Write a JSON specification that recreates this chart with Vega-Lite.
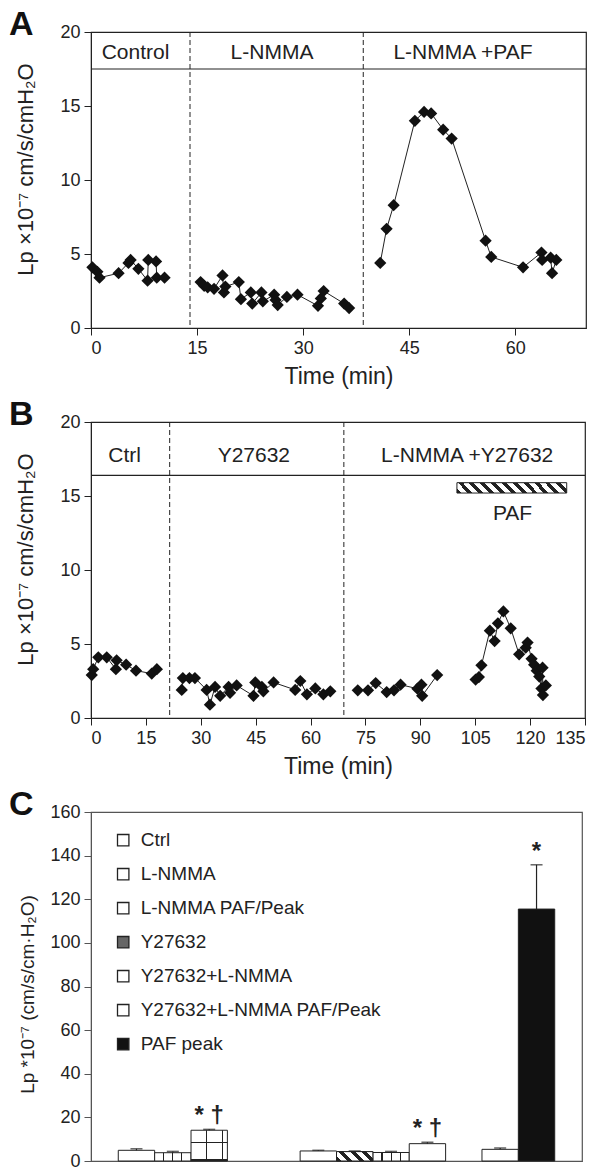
{
  "$schema": "https://vega.github.io/schema/vega-lite/v6.json",
  "background": "white",
  "padding": {"left": 8, "top": 7, "right": 5, "bottom": 5},
  "spacing": 94,
  "bounds": "flush",
  "config": {
    "font": "Liberation Sans",
    "view": {"stroke": "#222", "strokeWidth": 1.2},
    "axis": {"grid": false, "labelFont": "Liberation Sans", "labelFontSize": 18, "labelColor": "#222", "tickColor": "#222", "domainColor": "#222", "tickSize": 7, "labelPadding": 4, "titleFont": "Liberation Sans", "titleFontSize": 21, "titleFontWeight": "normal", "titleColor": "#222"},
    "title": {"font": "Liberation Sans", "fontSize": 34, "fontWeight": "bold", "anchor": "start", "frame": "group", "color": "#111"},
    "text": {"font": "Liberation Sans", "color": "#222"}
  },
  "datasets": {
    "lpA": [
      {"s": 1, "t": 0.2, "v": 4.1}, {"s": 1, "t": 0.9, "v": 3.8}, {"s": 1, "t": 1.2, "v": 3.4}, {"s": 1, "t": 3.9, "v": 3.7}, {"s": 1, "t": 5.3, "v": 4.4}, {"s": 1, "t": 5.6, "v": 4.6}, {"s": 1, "t": 6.7, "v": 4.0}, {"s": 1, "t": 8.0, "v": 3.2}, {"s": 1, "t": 8.1, "v": 4.6}, {"s": 1, "t": 9.2, "v": 4.5}, {"s": 1, "t": 9.3, "v": 3.4}, {"s": 1, "t": 10.4, "v": 3.4},
      {"s": 2, "t": 15.5, "v": 3.1}, {"s": 2, "t": 16.0, "v": 2.85}, {"s": 2, "t": 16.5, "v": 2.75}, {"s": 2, "t": 17.4, "v": 2.65}, {"s": 2, "t": 18.6, "v": 3.55}, {"s": 2, "t": 18.8, "v": 2.4}, {"s": 2, "t": 19.0, "v": 2.8}, {"s": 2, "t": 20.9, "v": 3.1}, {"s": 2, "t": 21.2, "v": 1.95}, {"s": 2, "t": 22.6, "v": 2.4}, {"s": 2, "t": 22.8, "v": 1.65}, {"s": 2, "t": 24.1, "v": 2.4}, {"s": 2, "t": 24.3, "v": 1.8}, {"s": 2, "t": 25.9, "v": 2.25}, {"s": 2, "t": 26.1, "v": 1.9}, {"s": 2, "t": 26.4, "v": 1.55}, {"s": 2, "t": 27.7, "v": 2.1}, {"s": 2, "t": 29.2, "v": 2.25}, {"s": 2, "t": 32.1, "v": 1.5}, {"s": 2, "t": 32.5, "v": 2.0}, {"s": 2, "t": 32.9, "v": 2.5}, {"s": 2, "t": 35.8, "v": 1.65}, {"s": 2, "t": 36.5, "v": 1.35},
      {"s": 3, "t": 40.9, "v": 4.4}, {"s": 3, "t": 41.8, "v": 6.7}, {"s": 3, "t": 42.8, "v": 8.3}, {"s": 3, "t": 45.8, "v": 14.0}, {"s": 3, "t": 47.1, "v": 14.6}, {"s": 3, "t": 48.1, "v": 14.5}, {"s": 3, "t": 49.8, "v": 13.4}, {"s": 3, "t": 51.0, "v": 12.8}, {"s": 3, "t": 55.8, "v": 5.9}, {"s": 3, "t": 56.6, "v": 4.8}, {"s": 3, "t": 61.1, "v": 4.1}, {"s": 3, "t": 63.7, "v": 5.1}, {"s": 3, "t": 63.8, "v": 4.6}, {"s": 3, "t": 65.0, "v": 4.75}, {"s": 3, "t": 65.2, "v": 3.7}, {"s": 3, "t": 65.8, "v": 4.6}
    ],
    "lpB": [
      {"s": 1, "t": 0.2, "v": 2.9}, {"s": 1, "t": 0.6, "v": 3.3}, {"s": 1, "t": 2.0, "v": 4.1}, {"s": 1, "t": 4.3, "v": 4.1}, {"s": 1, "t": 6.8, "v": 3.3}, {"s": 1, "t": 7.0, "v": 3.9}, {"s": 1, "t": 9.6, "v": 3.6}, {"s": 1, "t": 12.3, "v": 3.2}, {"s": 1, "t": 16.6, "v": 3.0}, {"s": 1, "t": 18.0, "v": 3.3},
      {"s": 2, "t": 24.8, "v": 1.9}, {"s": 2, "t": 25.1, "v": 2.7}, {"s": 2, "t": 26.9, "v": 2.7}, {"s": 2, "t": 28.4, "v": 2.7}, {"s": 2, "t": 31.6, "v": 1.9}, {"s": 2, "t": 32.5, "v": 0.9}, {"s": 2, "t": 33.9, "v": 2.1}, {"s": 2, "t": 35.3, "v": 1.5}, {"s": 2, "t": 37.6, "v": 2.1}, {"s": 2, "t": 38.0, "v": 1.7}, {"s": 2, "t": 39.8, "v": 2.2}, {"s": 2, "t": 44.4, "v": 1.5}, {"s": 2, "t": 44.9, "v": 2.4}, {"s": 2, "t": 46.7, "v": 2.1}, {"s": 2, "t": 47.1, "v": 1.8}, {"s": 2, "t": 49.9, "v": 2.4}, {"s": 2, "t": 55.8, "v": 1.9}, {"s": 2, "t": 57.2, "v": 2.5}, {"s": 2, "t": 59.0, "v": 1.6}, {"s": 2, "t": 61.3, "v": 2.0}, {"s": 2, "t": 63.5, "v": 1.6}, {"s": 2, "t": 65.4, "v": 1.8},
      {"s": 3, "t": 72.9, "v": 1.87}, {"s": 3, "t": 75.7, "v": 1.87}, {"s": 3, "t": 77.8, "v": 2.36}, {"s": 3, "t": 80.8, "v": 1.75}, {"s": 3, "t": 82.8, "v": 1.87}, {"s": 3, "t": 84.6, "v": 2.25}, {"s": 3, "t": 89.2, "v": 1.98}, {"s": 3, "t": 90.3, "v": 2.25}, {"s": 3, "t": 90.5, "v": 1.5}, {"s": 3, "t": 94.6, "v": 2.9},
      {"s": 4, "t": 105.1, "v": 2.6}, {"s": 4, "t": 106.0, "v": 2.77}, {"s": 4, "t": 106.7, "v": 3.56}, {"s": 4, "t": 109.0, "v": 5.9}, {"s": 4, "t": 110.3, "v": 5.2}, {"s": 4, "t": 111.2, "v": 6.4}, {"s": 4, "t": 112.7, "v": 7.2}, {"s": 4, "t": 114.7, "v": 6.06}, {"s": 4, "t": 117.0, "v": 4.3}, {"s": 4, "t": 118.8, "v": 4.75}, {"s": 4, "t": 119.3, "v": 5.1}, {"s": 4, "t": 120.4, "v": 4.0}, {"s": 4, "t": 121.1, "v": 3.6}, {"s": 4, "t": 121.8, "v": 3.2}, {"s": 4, "t": 122.5, "v": 2.8}, {"s": 4, "t": 123.1, "v": 1.99}, {"s": 4, "t": 123.4, "v": 3.4}, {"s": 4, "t": 123.5, "v": 1.55}, {"s": 4, "t": 124.3, "v": 2.2}
    ],
    "hdrA": [
      {"label": "Control", "t": 6.3, "v": 18.15},
      {"label": "L-NMMA", "t": 25.6, "v": 18.15},
      {"label": "L-NMMA +PAF", "t": 52.6, "v": 18.15}
    ],
    "hdrB": [
      {"label": "Ctrl", "t": 9.2, "v": 17.3},
      {"label": "Y27632", "t": 44.5, "v": 17.3},
      {"label": "L-NMMA +Y27632", "t": 102.8, "v": 17.3},
      {"label": "PAF", "t": 115.2, "v": 13.36}
    ],
    "bndA": [{"t": 14.0}, {"t": 38.5}],
    "bndB": [{"t": 21.5}, {"t": 69.1}],
    "pafB": [{"t": 100, "t2": 130, "v": 15.2, "v2": 15.9}],
    "bars": [
      {"slot": "Ctrl_1", "cond": "Ctrl", "v": 4.9, "err": 5.6},
      {"slot": "L-NMMA", "cond": "L-NMMA", "v": 3.8, "err": 4.4},
      {"slot": "L-NMMA PAF/Peak", "cond": "L-NMMA PAF/Peak", "v": 14.1, "err": 14.5, "sig": "* †"},
      {"slot": "Ctrl_2", "cond": "Ctrl", "v": 4.6, "err": 4.9},
      {"slot": "Y27632", "cond": "Y27632", "v": 4.3, "err": 4.6},
      {"slot": "Y27632+L-NMMA", "cond": "Y27632+L-NMMA", "v": 3.9, "err": 4.4},
      {"slot": "Y27632+L-NMMA PAF/Peak", "cond": "Y27632+L-NMMA PAF/Peak", "v": 7.95, "err": 8.6, "sig": "* †"},
      {"slot": "Ctrl_3", "cond": "Ctrl", "v": 5.35, "err": 5.96},
      {"slot": "PAF peak", "cond": "PAF peak", "v": 115.5, "err": 135.8, "sig": "*"}
    ]
  },
  "vconcat": [
    {
      "width": 495,
      "height": 296,
      "title": {"text": "A", "dx": -82, "dy": 19, "offset": 0},
      "layer": [
        {
          "data": {"name": "lpA"},
          "mark": {"type": "line", "color": "#222", "strokeWidth": 1},
          "encoding": {
            "x": {"field": "t", "type": "quantitative", "scale": {"domain": [0, 70], "nice": false}, "axis": {"values": [0, 15, 30, 45, 60], "title": "Time (min)", "titlePadding": 8, "titleFontSize": 23}},
            "y": {"field": "v", "type": "quantitative", "scale": {"domain": [0, 20], "nice": false}, "axis": {"values": [0, 5, 10, 15, 20], "title": "Lp ×10⁻⁷ cm/s/cmH₂O", "titleX": -54, "titleY": 137, "titleFontSize": 22}},
            "detail": {"field": "s"}
          }
        },
        {
          "data": {"name": "lpA"},
          "mark": {"type": "point", "shape": "diamond", "filled": true, "color": "#111", "size": 150, "opacity": 1},
          "encoding": {
            "x": {"field": "t", "type": "quantitative"},
            "y": {"field": "v", "type": "quantitative"}
          }
        },
        {
          "data": {"name": "bndA"},
          "mark": {"type": "rule", "color": "#222", "strokeDash": [5, 3], "strokeWidth": 1},
          "encoding": {"x": {"field": "t", "type": "quantitative"}}
        },
        {
          "data": {"values": [{"v": 17.5}]},
          "mark": {"type": "rule", "color": "#222", "strokeWidth": 1.2},
          "encoding": {"y": {"field": "v", "type": "quantitative"}}
        },
        {
          "data": {"name": "hdrA"},
          "mark": {"type": "text", "fontSize": 21, "align": "center", "baseline": "alphabetic"},
          "encoding": {
            "x": {"field": "t", "type": "quantitative"},
            "y": {"field": "v", "type": "quantitative"},
            "text": {"field": "label"}
          }
        }
      ]
    },
    {
      "width": 494,
      "height": 296,
      "title": {"text": "B", "dx": -82, "dy": 19, "offset": 0},
      "layer": [
        {
          "data": {"name": "lpB"},
          "mark": {"type": "line", "color": "#222", "strokeWidth": 1},
          "encoding": {
            "x": {"field": "t", "type": "quantitative", "scale": {"domain": [0, 135], "nice": false}, "axis": {"values": [0, 15, 30, 45, 60, 75, 90, 105, 120, 135], "title": "Time (min)", "titlePadding": 8, "titleFontSize": 23}},
            "y": {"field": "v", "type": "quantitative", "scale": {"domain": [0, 20], "nice": false}, "axis": {"values": [0, 5, 10, 15, 20], "title": "Lp ×10⁻⁷ cm/s/cmH₂O", "titleX": -54, "titleY": 137, "titleFontSize": 22}},
            "detail": {"field": "s"}
          }
        },
        {
          "data": {"name": "lpB"},
          "mark": {"type": "point", "shape": "diamond", "filled": true, "color": "#111", "size": 150, "opacity": 1},
          "encoding": {
            "x": {"field": "t", "type": "quantitative"},
            "y": {"field": "v", "type": "quantitative"}
          }
        },
        {
          "data": {"name": "bndB"},
          "mark": {"type": "rule", "color": "#222", "strokeDash": [5, 3], "strokeWidth": 1},
          "encoding": {"x": {"field": "t", "type": "quantitative"}}
        },
        {
          "data": {"values": [{"v": 16.4}]},
          "mark": {"type": "rule", "color": "#222", "strokeWidth": 1.2},
          "encoding": {"y": {"field": "v", "type": "quantitative"}}
        },
        {
          "data": {"name": "pafB"},
          "mark": {"type": "rect", "stroke": "#222", "strokeWidth": 1, "fill": {"gradient": "linear", "x1": 0, "y1": 1, "x2": 1.08, "y2": 0.902, "stops": [
            {"offset": 0, "color": "#222"}, {"offset": 0.041, "color": "#222"}, {"offset": 0.041, "color": "#fff"}, {"offset": 0.0909, "color": "#fff"},
            {"offset": 0.0909, "color": "#222"}, {"offset": 0.1319, "color": "#222"}, {"offset": 0.1319, "color": "#fff"}, {"offset": 0.1818, "color": "#fff"},
            {"offset": 0.1818, "color": "#222"}, {"offset": 0.2228, "color": "#222"}, {"offset": 0.2228, "color": "#fff"}, {"offset": 0.2727, "color": "#fff"},
            {"offset": 0.2727, "color": "#222"}, {"offset": 0.3137, "color": "#222"}, {"offset": 0.3137, "color": "#fff"}, {"offset": 0.3636, "color": "#fff"},
            {"offset": 0.3636, "color": "#222"}, {"offset": 0.4046, "color": "#222"}, {"offset": 0.4046, "color": "#fff"}, {"offset": 0.4545, "color": "#fff"},
            {"offset": 0.4545, "color": "#222"}, {"offset": 0.4955, "color": "#222"}, {"offset": 0.4955, "color": "#fff"}, {"offset": 0.5455, "color": "#fff"},
            {"offset": 0.5455, "color": "#222"}, {"offset": 0.5865, "color": "#222"}, {"offset": 0.5865, "color": "#fff"}, {"offset": 0.6364, "color": "#fff"},
            {"offset": 0.6364, "color": "#222"}, {"offset": 0.6774, "color": "#222"}, {"offset": 0.6774, "color": "#fff"}, {"offset": 0.7273, "color": "#fff"},
            {"offset": 0.7273, "color": "#222"}, {"offset": 0.7683, "color": "#222"}, {"offset": 0.7683, "color": "#fff"}, {"offset": 0.8182, "color": "#fff"},
            {"offset": 0.8182, "color": "#222"}, {"offset": 0.8592, "color": "#222"}, {"offset": 0.8592, "color": "#fff"}, {"offset": 0.9091, "color": "#fff"},
            {"offset": 0.9091, "color": "#222"}, {"offset": 0.9501, "color": "#222"}, {"offset": 0.9501, "color": "#fff"}, {"offset": 1, "color": "#fff"}
          ]}},
          "encoding": {
            "x": {"field": "t", "type": "quantitative"},
            "x2": {"field": "t2"},
            "y": {"field": "v", "type": "quantitative"},
            "y2": {"field": "v2"}
          }
        },
        {
          "data": {"name": "hdrB"},
          "mark": {"type": "text", "fontSize": 21, "align": "center", "baseline": "alphabetic"},
          "encoding": {
            "x": {"field": "t", "type": "quantitative"},
            "y": {"field": "v", "type": "quantitative"},
            "text": {"field": "label"}
          }
        }
      ]
    },
    {
      "width": 491,
      "height": 349,
      "view": {"stroke": "#555", "strokeWidth": 1.2},
      "title": {"text": "C", "dx": -82, "dy": 19, "offset": 0},
      "data": {"name": "bars"},
      "layer": [
        {
          "mark": {"type": "bar", "stroke": "#222", "strokeWidth": 1, "opacity": 1},
          "encoding": {
            "x": {"field": "slot", "type": "nominal", "sort": null, "scale": {"domain": ["Ctrl_1", "L-NMMA", "L-NMMA PAF/Peak", "g1", "g2", "Ctrl_2", "Y27632", "Y27632+L-NMMA", "Y27632+L-NMMA PAF/Peak", "g3", "Ctrl_3", "PAF peak"], "paddingInner": 0, "paddingOuter": 0.75}, "axis": {"labels": false, "ticks": false, "title": null, "domainColor": "#555"}},
            "y": {"field": "v", "type": "quantitative", "scale": {"domain": [0, 160], "nice": false}, "axis": {"values": [0, 20, 40, 60, 80, 100, 120, 140, 160], "title": "Lp *10⁻⁷ (cm/s/cm·H₂O)", "titleX": -54, "titleY": 182, "titleFontSize": 19, "domainColor": "#555", "tickColor": "#555"}},
            "color": {
              "field": "cond", "type": "nominal",
              "scale": {"domain": ["Ctrl", "L-NMMA", "L-NMMA PAF/Peak", "Y27632", "Y27632+L-NMMA", "Y27632+L-NMMA PAF/Peak", "PAF peak"], "range": ["#fff", "#fff", "#fff", "#666", "#fff", "#fff", "#111"]},
              "legend": {
                "orient": "none", "legendX": 22.7, "legendY": 798.7, "title": null, "padding": 0,
                "symbolType": "square", "symbolSize": 130, "symbolStrokeColor": "#222", "symbolStrokeWidth": 1.3,
                "labelFont": "Liberation Sans", "labelFontSize": 19, "labelColor": "#222", "labelOffset": 8, "labelLimit": 0, "rowPadding": 14
              }
            }
          }
        },
        {
          "transform": [{"filter": "datum.cond === 'L-NMMA' || datum.cond === 'Y27632+L-NMMA'"}],
          "mark": {"type": "bar", "strokeWidth": 0, "fill": {"gradient": "linear", "x1": 0, "y1": 0, "x2": 1, "y2": 0, "stops": [
            {"offset": 0, "color": "rgba(0,0,0,0)"}, {"offset": 0.235, "color": "rgba(0,0,0,0)"}, {"offset": 0.235, "color": "#222"}, {"offset": 0.265, "color": "#222"}, {"offset": 0.265, "color": "rgba(0,0,0,0)"},
            {"offset": 0.485, "color": "rgba(0,0,0,0)"}, {"offset": 0.485, "color": "#222"}, {"offset": 0.515, "color": "#222"}, {"offset": 0.515, "color": "rgba(0,0,0,0)"},
            {"offset": 0.735, "color": "rgba(0,0,0,0)"}, {"offset": 0.735, "color": "#222"}, {"offset": 0.765, "color": "#222"}, {"offset": 0.765, "color": "rgba(0,0,0,0)"}, {"offset": 1, "color": "rgba(0,0,0,0)"}
          ]}},
          "encoding": {
            "x": {"field": "slot", "type": "nominal"},
            "y": {"field": "v", "type": "quantitative"}
          }
        },
        {
          "transform": [{"filter": "datum.cond === 'L-NMMA PAF/Peak'"}],
          "mark": {"type": "bar", "strokeWidth": 0, "fill": {"gradient": "linear", "x1": 0, "y1": 0, "x2": 1, "y2": 0, "stops": [
            {"offset": 0, "color": "rgba(0,0,0,0)"}, {"offset": 0.415, "color": "rgba(0,0,0,0)"}, {"offset": 0.415, "color": "#222"}, {"offset": 0.445, "color": "#222"}, {"offset": 0.445, "color": "rgba(0,0,0,0)"},
            {"offset": 0.855, "color": "rgba(0,0,0,0)"}, {"offset": 0.855, "color": "#222"}, {"offset": 0.885, "color": "#222"}, {"offset": 0.885, "color": "rgba(0,0,0,0)"}, {"offset": 1, "color": "rgba(0,0,0,0)"}
          ]}},
          "encoding": {
            "x": {"field": "slot", "type": "nominal"},
            "y": {"field": "v", "type": "quantitative"}
          }
        },
        {
          "transform": [{"filter": "datum.cond === 'L-NMMA PAF/Peak'"}],
          "mark": {"type": "bar", "strokeWidth": 0, "fill": {"gradient": "linear", "x1": 0, "y1": 0, "x2": 0, "y2": 1, "stops": [
            {"offset": 0, "color": "rgba(0,0,0,0)"}, {"offset": 0.38, "color": "rgba(0,0,0,0)"}, {"offset": 0.38, "color": "#222"}, {"offset": 0.42, "color": "#222"}, {"offset": 0.42, "color": "rgba(0,0,0,0)"},
            {"offset": 0.95, "color": "rgba(0,0,0,0)"}, {"offset": 0.95, "color": "#222"}, {"offset": 1, "color": "#222"}
          ]}},
          "encoding": {
            "x": {"field": "slot", "type": "nominal"},
            "y": {"field": "v", "type": "quantitative"}
          }
        },
        {
          "transform": [{"filter": "datum.cond === 'Y27632'"}],
          "mark": {"type": "bar", "stroke": "#222", "strokeWidth": 1, "fill": {"gradient": "linear", "x1": 0, "y1": 1, "x2": 1.18, "y2": 0.695, "stops": [
            {"offset": 0, "color": "#222"}, {"offset": 0.11, "color": "#222"}, {"offset": 0.11, "color": "#fff"}, {"offset": 0.25, "color": "#fff"},
            {"offset": 0.25, "color": "#222"}, {"offset": 0.36, "color": "#222"}, {"offset": 0.36, "color": "#fff"}, {"offset": 0.5, "color": "#fff"},
            {"offset": 0.5, "color": "#222"}, {"offset": 0.61, "color": "#222"}, {"offset": 0.61, "color": "#fff"}, {"offset": 0.75, "color": "#fff"},
            {"offset": 0.75, "color": "#222"}, {"offset": 0.86, "color": "#222"}, {"offset": 0.86, "color": "#fff"}, {"offset": 1, "color": "#fff"}
          ]}},
          "encoding": {
            "x": {"field": "slot", "type": "nominal"},
            "y": {"field": "v", "type": "quantitative"}
          }
        },
        {
          "mark": {"type": "rule", "color": "#222", "strokeWidth": 1.2},
          "encoding": {
            "x": {"field": "slot", "type": "nominal"},
            "y": {"field": "v", "type": "quantitative"},
            "y2": {"field": "err"}
          }
        },
        {
          "mark": {"type": "tick", "color": "#222", "orient": "horizontal", "size": 12, "thickness": 1.5},
          "encoding": {
            "x": {"field": "slot", "type": "nominal"},
            "y": {"field": "err", "type": "quantitative"}
          }
        },
        {
          "transform": [{"filter": "isValid(datum.sig)"}],
          "mark": {"type": "text", "fontSize": 24, "fontWeight": "bold", "align": "center", "baseline": "alphabetic", "dy": -6},
          "encoding": {
            "x": {"field": "slot", "type": "nominal"},
            "y": {"field": "err", "type": "quantitative"},
            "text": {"field": "sig"}
          }
        }
      ]
    }
  ]
}
